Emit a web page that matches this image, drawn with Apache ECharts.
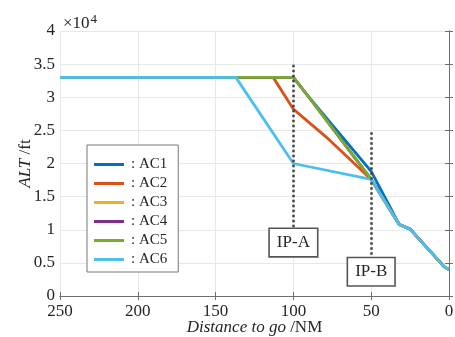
<!DOCTYPE html>
<html>
<head>
<meta charset="utf-8">
<script src="https://cdn.jsdelivr.net/npm/echarts@6/dist/echarts.min.js"></script>
<style>
  html, body { margin: 0; padding: 0; background: #fff; }
  #chart { width: 455px; height: 337px; }
</style>
</head>
<body>
<div id="chart"></div>
<script>
// [distance to go (NM), altitude (ft)]
const ac1 = [[250, 33000], [100, 33000], [90, 30000], [50, 18800], [32, 10800], [25, 10100], [3, 4400], [0, 4000]];
const ac2 = [[250, 33000], [113, 33000], [100, 28200], [77, 23600], [50, 17600], [32, 10800], [25, 10100], [3, 4400], [0, 4000]];
const ac3 = [[250, 33000], [100, 33000], [90, 30000], [50, 17600], [32, 10800], [25, 10100], [3, 4400], [0, 4000]];
const ac4 = [[250, 33000], [100, 33000], [90, 30000], [50, 17600], [32, 10800], [25, 10100], [3, 4400], [0, 4000]];
const ac5 = [[250, 33000], [100, 33000], [90, 30000], [50, 17600], [32, 10800], [25, 10100], [3, 4400], [0, 4000]];
const ac6 = [[250, 33000], [137, 33000], [100, 20000], [50, 17600], [32, 10800], [25, 10100], [3, 4400], [0, 4000]];

const names = ["AC1", "AC2", "AC3", "AC4", "AC5", "AC6"];
const colors = ["#0072BD", "#D95319", "#EDB120", "#7E2F8E", "#77AC30", "#4DBEEE"];
const tracks = [ac1, ac2, ac3, ac4, ac5, ac6];

// interface points: label, distance, dotted line top/bottom altitude
const ipNames = ["IP-A", "IP-B"];
const ipDist = [100, 50];
const ipTop = [34900, 24700];
const ipBottom = [10100, 5700];

const serif = "'Liberation Serif', 'DejaVu Serif', serif";
const ink = "#262626";
const axisCol = "#6e6e6e";

const chart = echarts.init(document.getElementById("chart"), null, { renderer: "canvas" });

const lineSeries = tracks.map((d, i) => ({
  name: names[i],
  type: "line",
  data: d,
  symbol: "none",
  color: colors[i],
  lineStyle: { color: colors[i], width: 2.8 },
  z: 2 + i * 0.1,
}));

const ipSeries = {
  name: "IP",
  type: "line",
  data: [],
  symbol: "none",
  z: 5,
  markLine: {
    silent: true,
    symbol: ["none", "none"],
    animation: false,
    lineStyle: { color: "#444", type: [2.5, 2.5], width: 2.5 },
    label: {
      show: true,
      position: "end",
      distance: 0,
      fontFamily: serif,
      fontSize: 17,
      color: ink,
      backgroundColor: "#fff",
      borderColor: "#555",
      borderWidth: 1.6,
      padding: [5, 7, 5, 7],
    },
    data: ipNames.map((n, i) => [
      { coord: [ipDist[i], ipTop[i]], name: n },
      { coord: [ipDist[i], ipBottom[i]], label: { formatter: n } },
    ]),
  },
};

const option = {
  backgroundColor: "#fff",
  animation: false,
  textStyle: { fontFamily: serif, color: ink },
  title: {
    left: 58,
    top: 8,
    text: "{a|×10}{b|4}",
    textStyle: {
      fontWeight: "normal",
      rich: {
        a: { fontFamily: serif, fontSize: 17, fontWeight: "normal", color: ink },
        b: { fontFamily: serif, fontSize: 13, fontWeight: "normal", color: ink, padding: [0, 0, 9, 1] },
      },
    },
  },
  grid: { left: 60, right: 6, top: 31, bottom: 41, outerBoundsMode: "none" },
  legend: {
    data: names,
    orient: "vertical",
    left: 87,
    top: 145,
    icon: "rect",
    itemWidth: 30,
    itemHeight: 3,
    itemGap: 4,
    padding: [12, 11, 5, 7],
    backgroundColor: "#fff",
    borderColor: "#777",
    borderWidth: 1,
    formatter: (n) => ": " + n,
    textStyle: { fontFamily: serif, fontSize: 15, color: ink, padding: [0, 0, 0, 2] },
  },
  xAxis: [
    {
      type: "value",
      inverse: true,
      min: 0,
      max: 250,
      interval: 50,
      name: "{i|Distance to go} /NM",
      nameLocation: "middle",
      nameGap: 23,
      nameMoveOverlap: false,
      nameTextStyle: {
        fontFamily: serif,
        fontSize: 17,
        color: ink,
        rich: { i: { fontFamily: serif, fontSize: 17, fontStyle: "italic", color: ink } },
      },
      axisLine: { show: true, lineStyle: { color: axisCol, width: 1 } },
      axisTick: { show: true, inside: true, length: 4, lineStyle: { color: axisCol } },
      axisLabel: { fontFamily: serif, fontSize: 17, color: ink, margin: 7 },
      splitLine: { show: true, lineStyle: { color: "#e8e8e8", width: 1 } },
    },
    {
      type: "value",
      position: "top",
      inverse: true,
      min: 0,
      max: 250,
      interval: 50,
      axisLine: { show: true, lineStyle: { color: axisCol, width: 1 } },
      axisTick: { show: true, inside: true, length: 4, lineStyle: { color: axisCol } },
      axisLabel: { show: false },
      splitLine: { show: false },
    },
  ],
  yAxis: [
    {
      type: "value",
      min: 0,
      max: 40000,
      interval: 5000,
      name: "{i|ALT} /ft",
      nameLocation: "middle",
      nameGap: 26,
      nameMoveOverlap: false,
      nameTextStyle: {
        fontFamily: serif,
        fontSize: 17,
        color: ink,
        rich: { i: { fontFamily: serif, fontSize: 17, fontStyle: "italic", color: ink } },
      },
      axisLine: { show: true, lineStyle: { color: axisCol, width: 1 } },
      axisTick: { show: true, inside: true, length: 4, lineStyle: { color: axisCol } },
      axisLabel: { fontFamily: serif, fontSize: 17, color: ink, margin: 5, formatter: (v) => String(v / 10000) },
      splitLine: { show: true, lineStyle: { color: "#e8e8e8", width: 1 } },
    },
    {
      type: "value",
      position: "right",
      min: 0,
      max: 40000,
      interval: 5000,
      axisLine: { show: true, lineStyle: { color: axisCol, width: 1 } },
      axisTick: { show: true, inside: true, length: 4, lineStyle: { color: axisCol } },
      axisLabel: { show: false },
      splitLine: { show: false },
    },
  ],
  series: [...lineSeries, ipSeries],
};

chart.setOption(option);
</script>
</body>
</html>
